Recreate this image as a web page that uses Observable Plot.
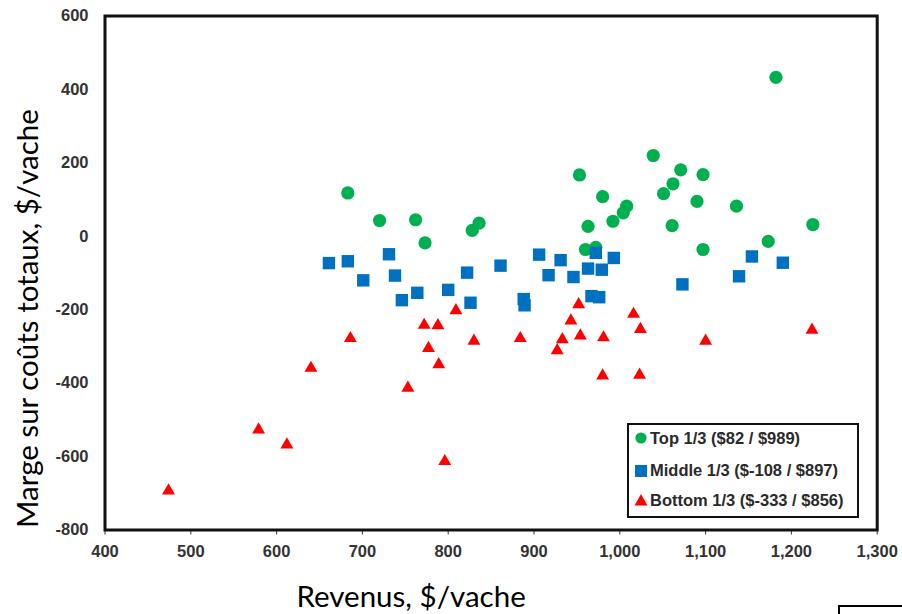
<!DOCTYPE html>
<html>
<head>
<meta charset="utf-8">
<script src="https://cdn.jsdelivr.net/npm/d3@7"></script>
<script src="https://cdn.jsdelivr.net/npm/@observablehq/plot@0.6"></script>
<style>
  html, body { margin: 0; padding: 0; background: #fff; overflow: hidden; }
  #wrap { position: relative; width: 902px; height: 614px; }
  #legend { position: absolute; left: 627px; top: 423px; width: 228px; height: 91px;
            border: 2px solid #111; background: #fff;
            font-family: "Liberation Sans", Arial, sans-serif; font-weight: bold;
            font-size: 16.5px; color: #2a2a2a; }
  .row { position: absolute; left: 5px; height: 20px; display: flex; align-items: center; white-space: nowrap; }
  .row svg { margin-right: 2px; }
  #corner { position: absolute; left: 838px; top: 605px; width: 100px; height: 40px;
            border-top: 2px solid #000; border-left: 2px solid #000; }
</style>
</head>
<body>
<div id="wrap"></div>
<script>
// ---- Data ----
const topRevenue    = [683, 720, 762, 773, 828, 836, 953, 960, 972, 963, 980, 992, 1004, 1008, 1039, 1051, 1062, 1071, 1061, 1090, 1097, 1097, 1136, 1173, 1182, 1225];
const topMargin     = [118, 43, 45, -18, 16, 36, 167, -36, -30, 27, 108, 41, 64, 82, 220, 116, 143, 181, 29, 95, 168, -36, 82, -14, 433, 32];

const middleRevenue = [661, 683, 701, 731, 738, 746, 764, 800, 822, 826, 861, 888, 889, 906, 917, 931, 946, 963, 972, 979, 993, 967, 976, 1073, 1139, 1154, 1190];
const middleMargin  = [-73, -68, -120, -49, -107, -174, -154, -146, -99, -181, -80, -171, -188, -50, -106, -65, -111, -88, -45, -91, -59, -163, -166, -131, -109, -55, -72];

const bottomRevenue = [474, 579, 612, 640, 686, 753, 772, 788, 777, 789, 796, 809, 830, 884, 927, 933, 943, 952, 954, 981, 980, 1016, 1024, 1023, 1100, 1224];
const bottomMargin  = [-693, -527, -568, -359, -278, -413, -242, -243, -305, -349, -613, -202, -285, -278, -311, -281, -230, -186, -271, -276, -380, -212, -253, -378, -285, -255];

const seriesNames  = ["Top 1/3 ($82 / $989)", "Middle 1/3 ($-108 / $897)", "Bottom 1/3 ($-333 / $856)"];
const seriesColors = ["#00B050", "#0070C0", "#FF0000"];
const xTicks = [400, 500, 600, 700, 800, 900, 1000, 1100, 1200, 1300];
const yTicks = [-800, -600, -400, -200, 0, 200, 400, 600];
const xTitle = "Revenus, $/vache";
const yTitle = "Marge sur coûts totaux, $/vache";

// ---- Build tables ----
const toRows = (xs, ys) => xs.map((x, i) => ({revenue: x, margin: ys[i]}));
const topRows = toRows(topRevenue, topMargin);
const middleRows = toRows(middleRevenue, middleMargin);
const bottomRows = toRows(bottomRevenue, bottomMargin);

const titleFont = "Lato, 'Open Sans', sans-serif";

const chart = Plot.plot({
  width: 902,
  height: 614,
  marginLeft: 104.5,
  marginRight: 25.3,
  marginTop: 15.5,
  marginBottom: 84.5,
  style: {
    fontFamily: "'Liberation Sans', Arial, sans-serif",
    fontSize: "16.5px",
    fontWeight: "bold",
    color: "#333",
    background: "#fff",
    overflow: "visible"
  },
  x: {domain: [400, 1300], ticks: xTicks, tickFormat: d3.format(","), tickSize: 5, tickPadding: 10.5, label: null},
  y: {domain: [-800, 600], ticks: yTicks, tickFormat: d => String(d), tickSize: 0, tickPadding: 16.5, label: null},
  marks: [
    Plot.dot(topRows, {x: "revenue", y: "margin", symbol: "circle", r: 6.6, fill: seriesColors[0], stroke: "none"}),
    Plot.dot(middleRows, {x: "revenue", y: "margin", symbol: "square", r: 7.0, fill: seriesColors[1], stroke: "none"}),
    Plot.dot(bottomRows, {x: "revenue", y: "margin", symbol: "triangle", r: 4.8, fill: seriesColors[2], stroke: "none"}),
    Plot.frame({stroke: "#111", strokeWidth: 3}),
    Plot.text([xTitle], {text: d => d, frameAnchor: "bottom", dx: -80, dy: 76.5, textAnchor: "middle", lineAnchor: "bottom",
      fontFamily: titleFont, fontSize: 29.5, fontWeight: "normal", fill: "#000"}),
    Plot.text([yTitle], {text: d => d, frameAnchor: "left", rotate: -90, dx: -67.5, dy: 45.5, textAnchor: "middle", lineAnchor: "bottom",
      fontFamily: titleFont, fontSize: 29.5, fontWeight: "normal", fill: "#000"})
  ]
});

const wrap = document.getElementById("wrap");
wrap.appendChild(chart);

// ---- Legend (HTML overlay) ----
const legend = document.createElement("div");
legend.id = "legend";
const rowTops = [3.3, 35.7, 65];
const symbols = [
  '<svg width="14" height="14" viewBox="-7 -7 14 14"><circle r="5.6" fill="' + seriesColors[0] + '"/></svg>',
  '<svg width="14" height="14" viewBox="-7 -7 14 14"><rect x="-6" y="-6" width="12" height="12" fill="' + seriesColors[1] + '"/></svg>',
  '<svg width="14" height="14" viewBox="-7 -7 14 14"><path d="M0,-6L6.5,5.5L-6.5,5.5Z" fill="' + seriesColors[2] + '"/></svg>'
];
seriesNames.forEach((name, i) => {
  const row = document.createElement("div");
  row.className = "row";
  row.style.top = rowTops[i] + "px";
  row.innerHTML = symbols[i] + "<span>" + name + "</span>";
  legend.appendChild(row);
});
wrap.appendChild(legend);

const corner = document.createElement("div");
corner.id = "corner";
wrap.appendChild(corner);
</script>
</body>
</html>
